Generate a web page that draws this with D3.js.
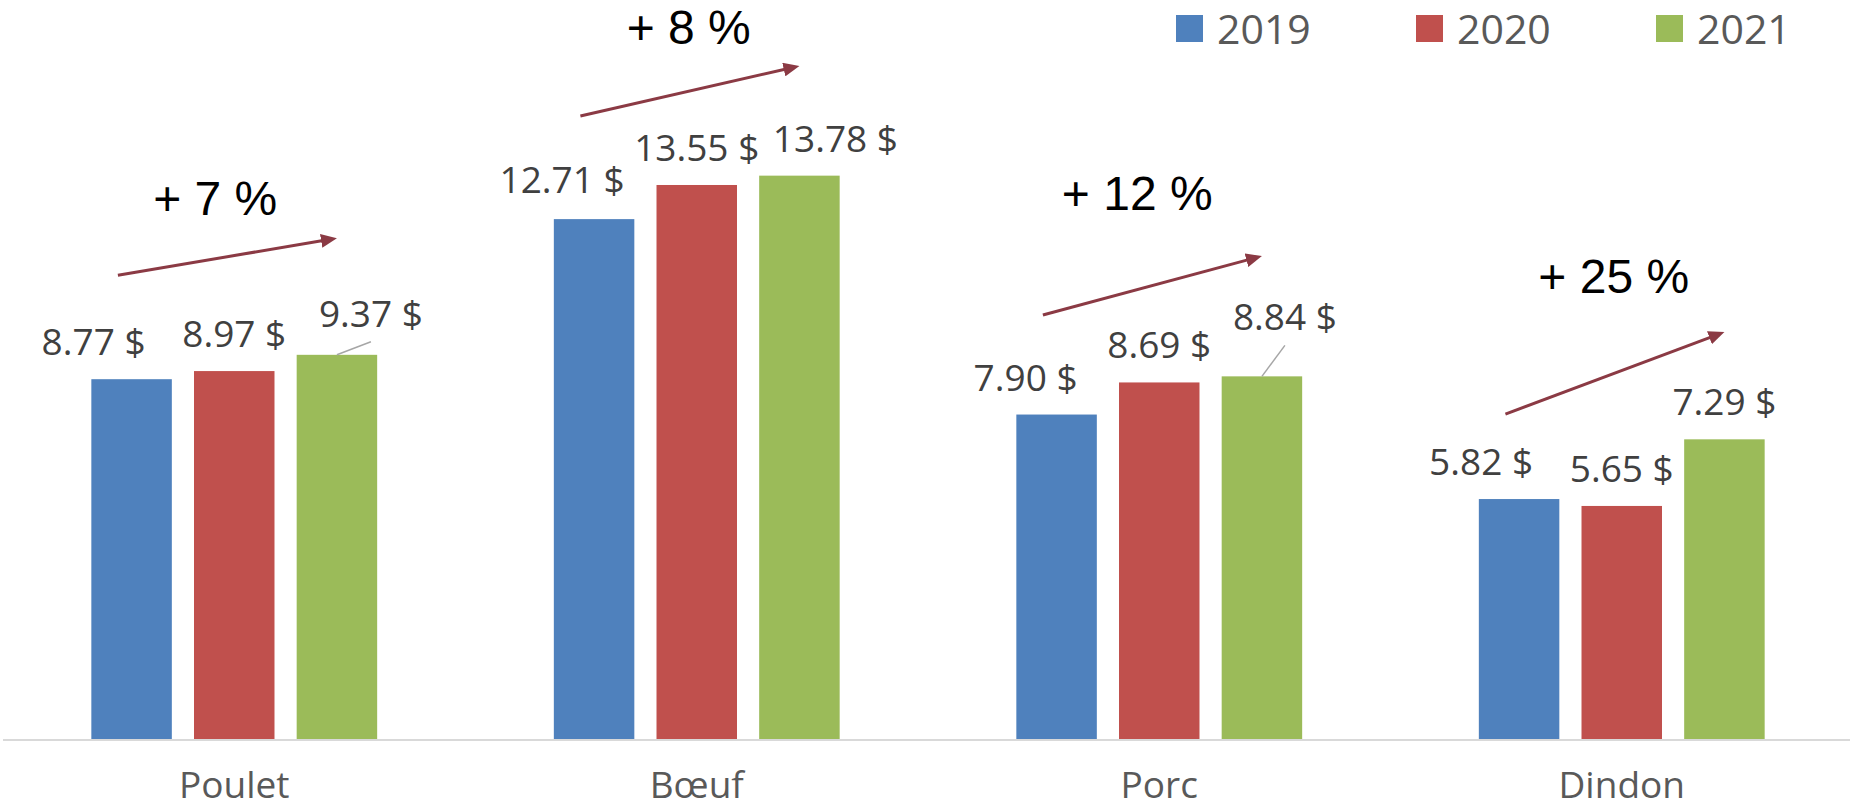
<!DOCTYPE html>
<html>
<head>
<meta charset="utf-8">
<script src="https://cdn.jsdelivr.net/npm/d3@7"></script>
<style>
	body { margin: 0; background: #fff; }
	svg { display: block; font-family: 'Open Sans', sans-serif; }
	.pct { font-family: 'Liberation Sans', Arial, sans-serif; }
</style>
</head>
<body>
<div class="chart"></div>
<script>
// data
const categories = ['Poulet', 'Bœuf', 'Porc', 'Dindon'];
const years = ['2019', '2020', '2021'];
const prices2019 = [8.77, 12.71, 7.9, 5.82];
const prices2020 = [8.97, 13.55, 8.69, 5.65];
const prices2021 = [9.37, 13.78, 8.84, 7.29];
const colors = ['#4f81bd', '#c0504d', '#9bbb59'];

// trend arrows + % labels (heights in $)
const arrowFrom = [11.33, 15.25, 10.35, 7.91];
const arrowTo = [12.24, 16.48, 11.8, 9.93];
const pctLevel = [12.81, 17.02, 12.93, 10.89];
const pctNudge = [-19, -8, -22, -8];

// labels that were dragged by hand in the original [dx, dy]
const labelNudge = {
	'Poulet-2019': [-38, 0],
	'Poulet-2021': [34, -4],
	'Bœuf-2019': [-32, -2],
	'Bœuf-2021': [36, 0],
	'Porc-2019': [-31, 0],
	'Porc-2021': [23, -22],
	'Dindon-2019': [-38, 0]
};
const leaders = ['Poulet-2021', 'Porc-2021'];

const width = 1850;
const height = 810;
const series = [prices2019, prices2020, prices2021];

const rows = categories.flatMap((cat, i) =>
	years.map((year, j) => ({ cat, year, value: series[j][i], key: `${cat}-${year}` }))
);

// scales
const x = d3
	.scaleBand()
	.domain(categories)
	.range([3, 1853])
	.paddingInner(0.382)
	.paddingOuter(0.191);

const xSub = d3
	.scaleBand()
	.domain(years)
	.range([0, x.bandwidth()])
	.paddingInner(0.216);

const y = d3.scaleLinear().domain([0, 18]).range([735.5, 4.2]);
const color = d3.scaleOrdinal().domain(years).range(colors);
const fmt = d3.format('.2f');

// bars run a few px past zero down to the axis rule, as in the original
const axisY = y(0) + 4.5;

const $svg = d3
	.select('.chart')
	.append('svg')
	.attr('width', width)
	.attr('height', height);

$svg
	.append('defs')
	.append('marker')
	.attr('id', 'head')
	.attr('viewBox', '0 0 16 14')
	.attr('markerUnits', 'userSpaceOnUse')
	.attr('markerWidth', 16)
	.attr('markerHeight', 14)
	.attr('refX', 8)
	.attr('refY', 7)
	.attr('orient', 'auto')
	.append('path')
	.attr('d', 'M0,0L16,7L0,14Z')
	.attr('fill', '#8b3a44');

// bars
const barX = d => x(d.cat) + xSub(d.year);

$svg
	.append('g')
	.selectAll('rect')
	.data(rows)
	.join('rect')
	.attr('x', barX)
	.attr('y', d => y(d.value))
	.attr('width', xSub.bandwidth())
	.attr('height', d => axisY - y(d.value))
	.attr('fill', d => color(d.year));

// baseline
$svg
	.append('line')
	.attr('x1', 3)
	.attr('x2', width)
	.attr('y1', axisY)
	.attr('y2', axisY)
	.attr('stroke', '#d9d9d9')
	.attr('stroke-width', 2);

// data labels
const labelPos = d => {
	const [dx, dy] = labelNudge[d.key] || [0, 0];
	return { x: barX(d) + xSub.bandwidth() / 2 + dx, y: y(d.value) - 24 + dy };
};

$svg
	.append('g')
	.selectAll('line')
	.data(rows.filter(d => leaders.includes(d.key)))
	.join('line')
	.attr('x1', d => barX(d) + xSub.bandwidth() / 2)
	.attr('y1', d => y(d.value))
	.attr('x2', d => labelPos(d).x)
	.attr('y2', d => labelPos(d).y + 15)
	.attr('stroke', '#a6a6a6')
	.attr('stroke-width', 1.5);

$svg
	.append('g')
	.selectAll('text')
	.data(rows)
	.join('text')
	.attr('x', d => labelPos(d).x)
	.attr('y', d => labelPos(d).y)
	.attr('text-anchor', 'middle')
	.style('font-size', '37px')
	.attr('fill', '#404040')
	.text(d => `${fmt(d.value)} $`);

// category labels
$svg
	.append('g')
	.selectAll('text')
	.data(categories)
	.join('text')
	.attr('x', d => x(d) + x.bandwidth() / 2)
	.attr('y', 798)
	.attr('text-anchor', 'middle')
	.style('font-size', '37px')
	.attr('fill', '#595959')
	.text(d => d);

// trend arrows
const arrows = categories.map((cat, i) => {
	const x1 = x(cat) + xSub('2019') + xSub.bandwidth() * 0.33;
	const y1 = y(arrowFrom[i]);
	const x2 = x(cat) + xSub('2021') + xSub.bandwidth() / 2;
	const y2 = y(arrowTo[i]);
	const len = Math.hypot(x2 - x1, y2 - y1);
	// stop the shaft short so the head owns the tip
	const k = (len - 8) / len;
	return { x1, y1, x2: x1 + (x2 - x1) * k, y2: y1 + (y2 - y1) * k };
});

$svg
	.append('g')
	.selectAll('line')
	.data(arrows)
	.join('line')
	.attr('x1', d => d.x1)
	.attr('y1', d => d.y1)
	.attr('x2', d => d.x2)
	.attr('y2', d => d.y2)
	.attr('stroke', '#8b3a44')
	.attr('stroke-width', 3)
	.attr('marker-end', 'url(#head)');

// % change 2019 -> 2021
$svg
	.append('g')
	.selectAll('text')
	.data(categories)
	.join('text')
	.attr('class', 'pct')
	.attr('x', (d, i) => x(d) + x.bandwidth() / 2 + pctNudge[i])
	.attr('y', (d, i) => y(pctLevel[i]))
	.attr('text-anchor', 'middle')
	.style('font-size', '48px')
	.attr('fill', '#000')
	.text((d, i) => {
		const pct = Math.round(((prices2021[i] - prices2019[i]) / prices2019[i]) * 100);
		return `+ ${pct} %`;
	});

// legend
const $legend = $svg
	.append('g')
	.selectAll('g')
	.data(years)
	.join('g')
	.attr('transform', (d, i) => `translate(${1176 + i * 240}, 0)`);

$legend
	.append('rect')
	.attr('y', 15)
	.attr('width', 27)
	.attr('height', 27)
	.attr('fill', d => color(d));

$legend
	.append('text')
	.attr('x', 41)
	.attr('y', 44)
	.style('font-size', '41px')
	.attr('fill', '#595959')
	.text(d => d);
</script>
</body>
</html>
